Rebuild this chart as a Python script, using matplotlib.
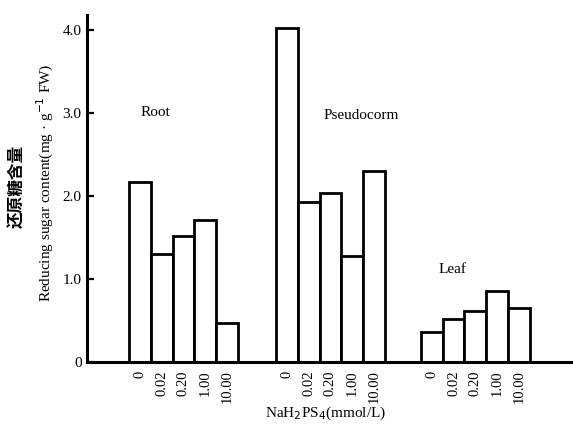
import matplotlib
matplotlib.use("Agg")
import matplotlib.pyplot as plt
import numpy as np

# NaH2PS4 concentrations (mmol/L)
concentrations = ["0", "0.02", "0.20", "1.00", "10.00"]
tissues = ["Root", "Pseudocorm", "Leaf"]

# reducing sugar content (mg . g-1 FW)
root = [2.17, 1.30, 1.52, 1.71, 0.47]
pseudocorm = [4.02, 1.92, 2.04, 1.28, 2.30]
leaf = [0.36, 0.52, 0.61, 0.85, 0.65]

# layout
group_starts = [0.0, 6.77, 13.45]
label_pos = [(0.7, 3.0), (10.2, 2.97), (14.4, 1.11)]

plt.rcParams['font.family'] = ['Liberation Serif', 'DejaVu Serif']

fig = plt.figure(figsize=(5.73, 4.34), dpi=100)
ax = fig.add_axes([0.152, 0.166, 0.848, 0.80])

xs_all = []
labels_all = []
for start, values in zip(group_starts, [root, pseudocorm, leaf]):
    xs = start + np.arange(len(values))
    ax.bar(xs, values, width=1.0, color='white', edgecolor='black',
           linewidth=2.0)
    xs_all.extend(xs)
    labels_all.extend(concentrations)

for name, (lx, ly) in zip(tissues, label_pos):
    ax.text(lx, ly, name, ha='center', va='center', fontsize=11)

ax.set_xlim(-2.44, 19.95)
ax.set_ylim(0, 4.18)

ax.set_xticks(xs_all)
ax.set_xticklabels(labels_all, rotation=90, va='top', ha='center',
                   fontsize=10.5)
ax.tick_params(axis='x', length=0, pad=6)

ax.set_yticks([0, 1, 2, 3, 4])
ax.set_yticklabels(["0", "1.0", "2.0", "3.0", "4.0"], fontsize=11)
ax.tick_params(axis='y', direction='in', length=5, width=1.6, pad=4)

for side in ['top', 'right']:
    ax.spines[side].set_visible(False)
for side in ['left', 'bottom']:
    ax.spines[side].set_linewidth(2.2)

ax.set_xlabel("NaH$_2$PS$_4$(mmol/L)", fontsize=11)
ax.xaxis.set_label_coords(0.49, -0.124)
fig.text(0.080, 0.578, "Reducing sugar content(mg · g$^{-1}$ FW)",
         rotation=90, ha='center', va='center', fontsize=11)
fig.text(0.031, 0.571, "还原糖含量", rotation=90, ha='center', va='center',
         fontsize=12, fontweight='bold',
         family=['Noto Sans CJK SC', 'DejaVu Sans'])

fig.savefig("out.png", dpi=100)
